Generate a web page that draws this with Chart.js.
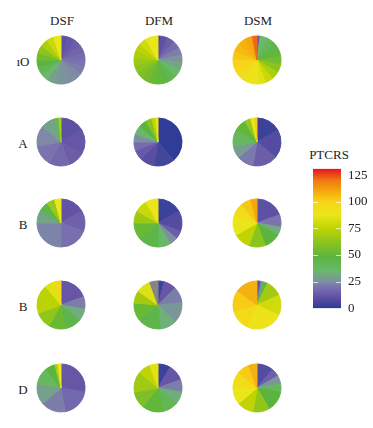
<!DOCTYPE html>
<html>
<head>
<meta charset="utf-8">
<script src="https://cdn.jsdelivr.net/npm/chart.js@4"></script>
<style>
  body { margin: 0; background: #fff; font-family: "Liberation Serif", serif; color: #222; }
  #wrap { position: relative; width: 373px; height: 428px; overflow: hidden; }
  .pie { position: absolute; width: 50px; height: 50px; }
  .lab { position: absolute; font-size: 13px; transform: translate(-50%, -50%); white-space: nowrap; }
  #bar { position: absolute; left: 313px; top: 154px; }
</style>
</head>
<body>
<div id="wrap"></div>
<script>
// column and row labels
const columns = ["DSF", "DFM", "DSM"];
const rows = ["ıO", "A", "B", "B", "D"];
const legendTitle = "PTCRS";
const legendTicks = [0, 25, 50, 75, 100, 125];

// each pie: PTCRS value of each slice (clockwise from top) and slice size in degrees
const dsfO_vals = [10, 12, 14, 16, 18, 20, 22, 24, 25, 26, 27, 30, 35, 42, 48, 55, 62, 70, 78, 88];
const dsfO_size = [18, 18, 18, 18, 18, 18, 18, 18, 18, 18, 18, 18, 18, 18, 18, 18, 18, 18, 18, 18];
const dfmO_vals = [3, 10, 14, 18, 22, 26, 30, 36, 42, 46, 50, 52, 55, 58, 62, 66, 70, 74, 80, 88];
const dfmO_size = [6, 18, 18, 18, 18, 18, 18, 18, 18, 18, 18, 18, 18, 18, 18, 18, 18, 18, 18, 30];
const dsmO_vals = [12, 35, 40, 45, 50, 55, 62, 70, 78, 85, 90, 92, 95, 98, 100, 103, 106, 108, 110, 122];
const dsmO_size = [8, 20, 20, 20, 20, 20, 20, 20, 20, 20, 20, 20, 20, 20, 20, 20, 20, 20, 20, 12];

const dsfA_vals = [10, 12, 14, 17, 20, 24, 30, 40, 70];
const dsfA_size = [60, 60, 40, 50, 50, 50, 35, 10, 5];
const dfmA_vals = [1, 5, 9, 13, 18, 25, 35, 48, 60, 75, 90];
const dfmA_size = [140, 50, 35, 25, 20, 20, 20, 20, 15, 10, 5];
const dsmA_vals = [3, 8, 14, 21, 28, 38, 50, 65, 88, 102];
const dsmA_size = [60, 70, 60, 40, 30, 40, 30, 15, 10, 5];

const dsfB1_vals = [11, 15, 19, 23, 30, 45, 65, 88];
const dsfB1_size = [60, 50, 70, 90, 30, 25, 20, 15];
const dfmB1_vals = [3, 8, 14, 25, 36, 45, 52, 66, 78, 90];
const dfmB1_size = [60, 50, 20, 20, 30, 50, 40, 30, 30, 30];
const dsmB1_vals = [10, 20, 32, 48, 62, 75, 88, 95, 103, 110];
const dsmB1_size = [70, 30, 20, 40, 40, 40, 50, 30, 25, 15];

const dsfB2_vals = [12, 22, 32, 45, 52, 63, 74, 85, 100];
const dsfB2_size = [70, 30, 30, 40, 40, 40, 70, 30, 10];
const dfmB2_vals = [3, 12, 22, 27, 33, 45, 52, 68, 84, null];
const dfmB2_size = [15, 30, 40, 50, 40, 60, 40, 30, 35, 20];
const dsmB2_vals = [5, 15, 28, 45, 68, 80, 90, 96, 102, 108];
const dsmB2_size = [6, 5, 5, 10, 40, 50, 90, 50, 50, 54];

const dsfD_vals = [12, 17, 22, 29, 38, 48, 70, 88];
const dsfD_size = [100, 70, 60, 50, 40, 25, 8, 7];
const dfmD_vals = [3, 12, 22, 32, 42, 50, 58, 67, 75, 85];
const dfmD_size = [30, 40, 30, 30, 40, 50, 40, 50, 30, 20];
const dsmD_vals = [8, 15, 27, 38, 48, 64, 75, 88, 95, 102, 108];
const dsmD_size = [40, 20, 20, 20, 50, 40, 40, 40, 40, 30, 20];

const pies = [
  [dsfO_vals, dsfO_size], [dfmO_vals, dfmO_size], [dsmO_vals, dsmO_size],
  [dsfA_vals, dsfA_size], [dfmA_vals, dfmA_size], [dsmA_vals, dsmA_size],
  [dsfB1_vals, dsfB1_size], [dfmB1_vals, dfmB1_size], [dsmB1_vals, dsmB1_size],
  [dsfB2_vals, dsfB2_size], [dfmB2_vals, dfmB2_size], [dsmB2_vals, dsmB2_size],
  [dsfD_vals, dsfD_size], [dfmD_vals, dfmD_size], [dsmD_vals, dsmD_size],
];

// colour scale
const stopVals = [0, 12, 20, 25, 35, 48, 62, 75, 88, 100, 110, 120, 131];
const stopCols = ["#2b3b94", "#6755a6", "#7a73b0", "#7e8fa2", "#6ab86c", "#5bb43e", "#8cc41e",
                  "#bfd402", "#eae61a", "#f7d418", "#f5a80e", "#f07a12", "#e8141c"];

function hex2rgb(h) {
  return [parseInt(h.slice(1, 3), 16), parseInt(h.slice(3, 5), 16), parseInt(h.slice(5, 7), 16)];
}
function colorFor(v) {
  if (v === null) return "#858585";
  if (v <= stopVals[0]) return stopCols[0];
  for (let i = 1; i < stopVals.length; i++) {
    if (v <= stopVals[i]) {
      const t = (v - stopVals[i - 1]) / (stopVals[i] - stopVals[i - 1]);
      const a = hex2rgb(stopCols[i - 1]), b = hex2rgb(stopCols[i]);
      const c = a.map((x, k) => Math.round(x + (b[k] - x) * t));
      return "rgb(" + c.join(",") + ")";
    }
  }
  return stopCols[stopCols.length - 1];
}

const wrap = document.getElementById("wrap");
const colX = [61, 158, 257];
const rowY = [60, 142, 223, 305, 388];

function addLabel(text, x, y, size) {
  const d = document.createElement("div");
  d.className = "lab";
  d.textContent = text;
  d.style.left = x + "px";
  d.style.top = y + "px";
  if (size) d.style.fontSize = size + "px";
  wrap.appendChild(d);
}

columns.forEach((c, i) => addLabel(c, colX[i] + 1, 21));
rows.forEach((r, i) => addLabel(r, 23, rowY[i] + 2));

pies.forEach((p, idx) => {
  const r = Math.floor(idx / 3), c = idx % 3;
  const cv = document.createElement("canvas");
  cv.className = "pie";
  cv.width = 50; cv.height = 50;
  cv.style.left = (colX[c] - 25) + "px";
  cv.style.top = (rowY[r] - 25) + "px";
  wrap.appendChild(cv);
  const cols = p[0].map(colorFor);
  new Chart(cv.getContext("2d"), {
    type: "pie",
    data: {
      labels: p[0].map(String),
      datasets: [{
        data: p[1],
        backgroundColor: cols,
        borderColor: cols,
        borderWidth: 1,
      }],
    },
    options: {
      responsive: false,
      animation: false,
      radius: 24,
      layout: { padding: 0 },
      plugins: { legend: { display: false }, tooltip: { enabled: false } },
    },
  });
});

// colour bar legend
addLabel(legendTitle, 329, 155, 13);
const bc = document.createElement("canvas");
bc.id = "bar";
bc.width = 56; bc.height = 169;
wrap.appendChild(bc);

const tickMarks = {
  id: "tickMarks",
  afterDatasetsDraw(chart) {
    const ctx = chart.ctx, y = chart.scales.y, a = chart.chartArea;
    ctx.save();
    ctx.strokeStyle = "rgba(255,255,255,0.7)";
    ctx.lineWidth = 1;
    [25, 50, 75, 100].forEach(v => {
      const py = Math.round(y.getPixelForValue(v)) + 0.5;
      ctx.beginPath();
      ctx.moveTo(a.left, py); ctx.lineTo(a.left + 5, py);
      ctx.moveTo(a.right - 5, py); ctx.lineTo(a.right, py);
      ctx.stroke();
    });
    ctx.restore();
  },
};

new Chart(bc.getContext("2d"), {
  type: "bar",
  data: {
    labels: [legendTitle],
    datasets: [{
      data: [131],
      borderWidth: 0,
      backgroundColor: (ctx) => {
        const ch = ctx.chart, a = ch.chartArea, y = ch.scales.y;
        if (!a) return "#888";
        const g = ch.ctx.createLinearGradient(0, y.getPixelForValue(0), 0, y.getPixelForValue(131));
        stopVals.forEach((v, i) => g.addColorStop(v / 131, stopCols[i]));
        return g;
      },
      barPercentage: 1,
      categoryPercentage: 1,
    }],
  },
  options: {
    responsive: false,
    animation: false,
    layout: { padding: { top: 9, bottom: 0 } },
    plugins: { legend: { display: false }, tooltip: { enabled: false } },
    scales: {
      x: { display: false },
      y: {
        position: "right",
        min: 0, max: 131,
        afterBuildTicks: (s) => { s.ticks = legendTicks.map(v => ({ value: v })); },
        grid: { display: false, drawTicks: false },
        border: { display: false },
        ticks: { color: "#222", padding: 7, font: { family: "Liberation Serif", size: 13 } },
      },
    },
  },
  plugins: [tickMarks],
});
</script>
</body>
</html>
